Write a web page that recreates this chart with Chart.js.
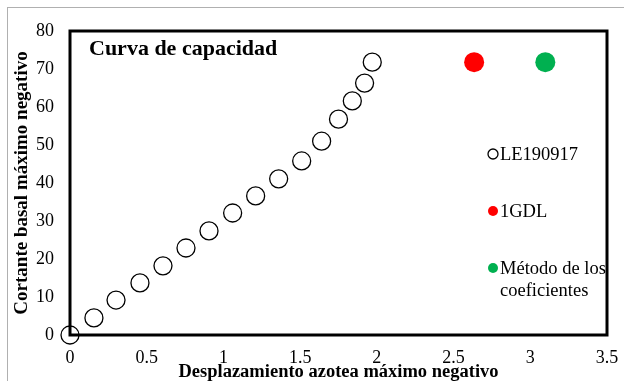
<!DOCTYPE html>
<html><head><meta charset="utf-8">
<script src="https://cdn.jsdelivr.net/npm/chart.js@4.4.1/dist/chart.umd.min.js"></script>
<style>
html,body{margin:0;padding:0;background:#fff;}
#wrap{position:relative;width:624px;height:381px;}
#frame{position:absolute;left:7px;top:7px;width:617px;height:374px;border-left:1px solid #b0b0b0;border-top:1px solid #b0b0b0;pointer-events:none;}
canvas{position:absolute;left:0;top:0;}
</style></head><body>
<div id="wrap"><canvas id="c" width="624" height="381"></canvas><div id="frame"></div></div>
<script>
const chartTitle = "Curva de capacidad";
const xTitle = "Desplazamiento azotea máximo negativo";
const yTitle = "Cortante basal máximo negativo";
const seriesNames = ["LE190917", "1GDL", "Método de los coeficientes"];
const leDispl = [0, 0.156, 0.30, 0.456, 0.606, 0.756, 0.906, 1.06, 1.21, 1.36, 1.51, 1.64, 1.75, 1.84, 1.92, 1.97];
const leShear = [0, 4.5, 9.2, 13.7, 18.2, 22.9, 27.4, 32.1, 36.6, 41.1, 45.8, 51.0, 56.8, 61.6, 66.3, 71.8];
const gdlDispl = [2.634];
const gdlShear = [71.8];
const coefDispl = [3.098];
const coefShear = [71.8];
const xTicks = [0, 0.5, 1, 1.5, 2, 2.5, 3, 3.5];
const xTickLabels = ["0", "0.5", "1", "1.5", "2", "2.5", "3", "3.5"];
const yTicks = [0, 10, 20, 30, 40, 50, 60, 70, 80];

const toPts = (xs, ys) => xs.map((x, i) => ({x: x, y: ys[i]}));
const SERIF = "'Liberation Serif','Times New Roman',serif";

const boxPlugin = {
  id: 'box',
  beforeDatasetsDraw(chart) {
    const {ctx, chartArea: a} = chart;
    ctx.save();
    ctx.strokeStyle = '#000';
    ctx.lineWidth = 3;
    ctx.strokeRect(a.left, a.top, a.right - a.left, a.bottom - a.top);
    ctx.restore();
  },
  afterDraw(chart) {
    const {ctx, chartArea: a} = chart;
    ctx.save();
    ctx.fillStyle = '#000';
    ctx.font = "bold 22px " + SERIF;
    ctx.textBaseline = 'middle';
    ctx.fillText(chartTitle, a.left + 19, a.top + 18);
    // legend
    ctx.font = "18.5px " + SERIF;
    const items = [
      {ds: chart.data.datasets[0], y: 154, lines: [seriesNames[0]]},
      {ds: chart.data.datasets[1], y: 211, lines: [seriesNames[1]]},
      {ds: chart.data.datasets[2], y: 268, lines: ["Método de los", "coeficientes"]}
    ];
    ctx.beginPath();
    ctx.rect(0, 0, a.right - 1, 381);
    ctx.clip();
    items.forEach(it => {
      const mx = 493;
      ctx.beginPath();
      ctx.arc(mx, it.y, 5, 0, Math.PI * 2);
      if (it.ds.backgroundColor && it.ds.backgroundColor !== 'rgba(0,0,0,0)') {
        ctx.fillStyle = it.ds.backgroundColor; ctx.fill();
      } else {
        ctx.strokeStyle = '#000'; ctx.lineWidth = 1.3; ctx.stroke();
      }
      ctx.fillStyle = '#000';
      it.lines.forEach((t, i) => ctx.fillText(t, 500, it.y + 1 + i * 22));
    });
    ctx.restore();
  }
};

new Chart(document.getElementById('c'), {
  type: 'scatter',
  data: {
    datasets: [
      {label: seriesNames[0], data: toPts(leDispl, leShear), pointRadius: 9, pointHoverRadius: 9,
       borderColor: '#000', borderWidth: 1.3, backgroundColor: 'rgba(0,0,0,0)', clip: false},
      {label: seriesNames[1], data: toPts(gdlDispl, gdlShear), pointRadius: 10, pointHoverRadius: 10,
       borderWidth: 0, borderColor: '#ff0000', backgroundColor: '#ff0000', clip: false},
      {label: seriesNames[2], data: toPts(coefDispl, coefShear), pointRadius: 10, pointHoverRadius: 10,
       borderWidth: 0, borderColor: '#00b050', backgroundColor: '#00b050', clip: false}
    ]
  },
  options: {
    responsive: false,
    animation: false,
    events: [],
    layout: {padding: {left: 0, top: 31, right: 17, bottom: 0}},
    plugins: {legend: {display: false}, tooltip: {enabled: false}, title: {display: false}},
    scales: {
      x: {
        type: 'linear', min: 0, max: 3.5,
        afterBuildTicks: s => { s.ticks = xTicks.map(v => ({value: v})); },
        afterFit: s => { s.height = 46; s.paddingLeft = 0; s.paddingRight = 0; },
        grid: {display: false, drawTicks: false},
        border: {display: false},
        ticks: {color: '#000', padding: 12, font: {family: SERIF, size: 18}, maxRotation: 0, autoSkip: false,
                callback: (v) => { const i = xTicks.indexOf(v); return i >= 0 ? xTickLabels[i] : String(v); }},
        title: {display: true, text: xTitle, color: '#000', padding: {top: 0, bottom: 0},
                font: {family: SERIF, size: 18.5, weight: 'bold', lineHeight: 1}}
      },
      y: {
        type: 'linear', min: 0, max: 80,
        afterBuildTicks: s => { s.ticks = yTicks.map(v => ({value: v})); },
        afterFit: s => { s.width = 70; s.paddingTop = 0; s.paddingBottom = 0; },
        grid: {display: false, drawTicks: false},
        border: {display: false},
        ticks: {color: '#000', padding: 16, font: {family: SERIF, size: 18}, autoSkip: false,
                callback: (v) => String(v)},
        title: {display: true, text: yTitle, color: '#000', padding: {top: 11, bottom: 0},
                font: {family: SERIF, size: 19, weight: 'bold', lineHeight: 1.2}}
      }
    }
  },
  plugins: [boxPlugin]
});
</script>
</body></html>
